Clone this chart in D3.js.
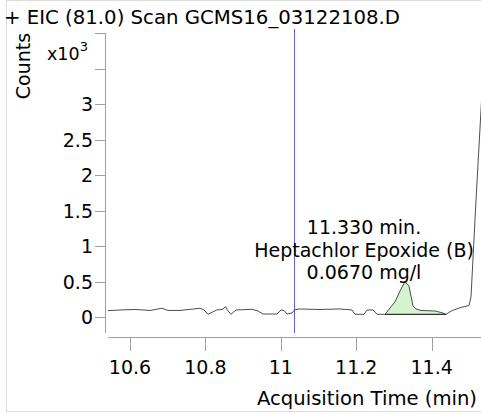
<!DOCTYPE html>
<html><head><meta charset="utf-8">
<script src="https://cdn.jsdelivr.net/npm/d3@7"></script>
<style>body{margin:0;background:#fff}svg{display:block;font-family:"DejaVu Sans",Verdana,sans-serif}</style>
</head><body>
<svg id="c" width="481" height="413"></svg>
<script>
// ---- data (time in min, counts in x10^3) ----
const times = [10.5416,10.5735,10.6133,10.6531,10.6849,10.7008,10.7326,10.7857,10.7963,10.8069,10.8300,10.8440,10.8538,10.8600,10.8679,10.8812,10.9236,10.9395,10.9528,10.9899,11.0005,11.0085,11.0164,11.0297,11.0363,11.0456,11.1040,11.1570,11.1889,11.1968,11.2207,11.2286,11.2446,11.2552,11.2764,11.3029,11.3175,11.3294,11.3400,11.3507,11.3586,11.3719,11.4090,11.4302,11.4382,11.4541,11.4753,11.4992,11.5045,11.5178,11.5310,11.5443];
const counts = [0.089,0.099,0.106,0.092,0.123,0.092,0.092,0.123,0.099,0.038,0.099,0.106,0.145,0.085,0.038,0.099,0.108,0.085,0.042,0.042,0.099,0.092,0.042,0.056,0.099,0.113,0.106,0.113,0.099,0.038,0.038,0.099,0.099,0.038,0.038,0.215,0.380,0.497,0.437,0.155,0.113,0.092,0.085,0.056,0.038,0.089,0.131,0.162,0.282,1.648,2.915,4.18];
const yTicks = [0,0.5,1,1.5,2,2.5,3,3.5,4];
const yTickLabels = ["0","0.5","1","1.5","2","2.5","3","",""];
const xTicks = [10.6,10.8,11,11.2,11.4];
const xTickLabels = ["10.6","10.8","11","11.2","11.4"];
const peakStart = 11.2764, peakEnd = 11.4382, peakBase = 0.038;
const markerTime = 11.036;
const title = "+ EIC (81.0) Scan GCMS16_03122108.D";
const annotation = ["11.330 min.","Heptachlor Epoxide (B)","0.0670 mg/l"];

const svg = d3.select("#c");
const x = d3.scaleLinear().domain([10.5416, 11.531]).range([108, 481]);
const y = d3.scaleLinear().domain([0, 4]).range([317, 33]);
const FS = 19;

// frame
svg.append("rect").attr("x",6.5).attr("y",0.5).attr("width",480).attr("height",411)
  .attr("fill","none").attr("stroke","#dcdcdc");

// title
svg.append("text").attr("x",4).attr("y",24).attr("font-size",FS)
  .attr("textLength",396).attr("lengthAdjust","spacingAndGlyphs").text(title);

// y axis
const gy = svg.append("g").attr("transform","translate(105,0)");
gy.append("line").attr("x1",0.5).attr("x2",0.5).attr("y1",y(4)).attr("y2",333).attr("stroke","#a0a0a0");
yTicks.forEach((t,i)=>{
  gy.append("line").attr("x1",-10).attr("x2",0).attr("y1",Math.round(y(t))+0.5).attr("y2",Math.round(y(t))+0.5).attr("stroke","#a0a0a0");
  if (yTickLabels[i]) gy.append("text").attr("x",-12).attr("y",y(t)+7)
    .attr("text-anchor","end").attr("font-size",FS).text(yTickLabels[i]);
});
svg.append("text").attr("transform","translate(30,66) rotate(-90)").attr("text-anchor","middle")
  .attr("font-size",FS).text("Counts");
const ex = svg.append("text").attr("x",47).attr("y",60).attr("font-size",17.5);
ex.append("tspan").text("x10");
ex.append("tspan").attr("font-size",13).attr("dy",-9).text("3");

// x axis
const gx = svg.append("g").attr("transform","translate(0,337)");
gx.append("line").attr("x1",108).attr("x2",481).attr("y1",0.5).attr("y2",0.5).attr("stroke","#a0a0a0");
xTicks.forEach((t,i)=>{
  const px = Math.round(x(t))+0.5;
  gx.append("line").attr("x1",px).attr("x2",px).attr("y1",0).attr("y2",14).attr("stroke","#a0a0a0");
  gx.append("text").attr("x",x(t)).attr("y",37).attr("text-anchor","middle")
    .attr("font-size",FS).text(xTickLabels[i]);
});
svg.append("text").attr("x",477).attr("y",405).attr("text-anchor","end").attr("font-size",FS)
  .attr("textLength",220).attr("lengthAdjust","spacingAndGlyphs").text("Acquisition Time (min)");

// clip
svg.append("clipPath").attr("id","pc").append("rect").attr("x",106).attr("y",0).attr("width",375).attr("height",336);
const plot = svg.append("g").attr("clip-path","url(#pc)");

const pts = times.map((t,i)=>[t,counts[i]]);
// peak fill
const peakPts = pts.filter(p=>p[0]>=peakStart && p[0]<=peakEnd);
const area = d3.area().x(d=>x(d[0])).y0(y(peakBase)).y1(d=>y(d[1]));
plot.append("path").datum(peakPts).attr("d",area).attr("fill","#d6f3d0").attr("stroke","none");
plot.append("line").attr("x1",x(peakStart)).attr("x2",x(peakEnd)).attr("y1",y(peakBase)).attr("y2",y(peakBase))
  .attr("stroke","#333").attr("stroke-width",1.2);

// marker line
plot.append("line").attr("x1",Math.round(x(markerTime))+0.5).attr("x2",Math.round(x(markerTime))+0.5)
  .attr("y1",29).attr("y2",333).attr("stroke","#6060dd").attr("stroke-width",1);

// trace
const line = d3.line().x(d=>x(d[0])).y(d=>y(d[1]));
plot.append("path").datum(pts).attr("d",line).attr("fill","none").attr("stroke","#3a3a3a").attr("stroke-width",0.9);

// annotation
annotation.forEach((s,i)=>{
  svg.append("text").attr("x",364).attr("y",234+i*22.5).attr("text-anchor","middle")
    .attr("font-size",FS).text(s);
});
</script>
</body></html>
